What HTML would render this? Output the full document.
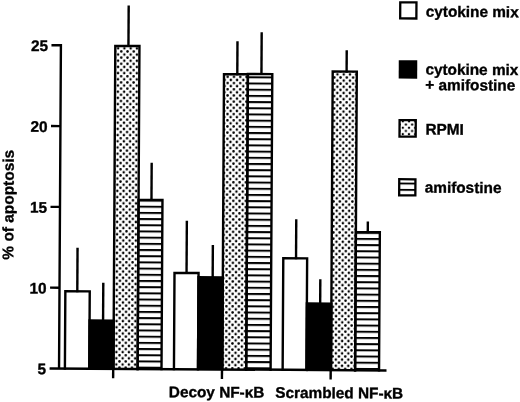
<!DOCTYPE html>
<html><head><meta charset="utf-8"><style>
html,body{margin:0;padding:0;background:#fff;}
body{width:520px;height:402px;overflow:hidden;}
svg{display:block;filter:grayscale(1);}
text{font-family:"Liberation Sans",sans-serif;font-weight:bold;font-size:15.35px;fill:#000;stroke:#000;stroke-width:0.35px;}
</style></head><body>
<svg width="520" height="402" viewBox="0 0 520 402">
<defs><pattern id="dots" patternUnits="userSpaceOnUse" x="116.3" y="103.8" width="6.27" height="6.2"><circle cx="0" cy="0" r="1.25"/><circle cx="6.27" cy="0" r="1.25"/><circle cx="0" cy="6.2" r="1.25"/><circle cx="6.27" cy="6.2" r="1.25"/><circle cx="3.135" cy="3.1" r="1.25"/></pattern><pattern id="stripes" patternUnits="userSpaceOnUse" x="0" y="341.40" width="10" height="6.19"><rect x="0" y="0" width="10" height="2.0"/></pattern><pattern id="dl" patternUnits="userSpaceOnUse" x="401.42" y="125.75" width="6.2" height="6.4"><circle cx="0" cy="0" r="1.15"/><circle cx="6.2" cy="0" r="1.15"/><circle cx="0" cy="6.4" r="1.15"/><circle cx="6.2" cy="6.4" r="1.15"/><circle cx="3.1" cy="3.2" r="1.15"/></pattern><pattern id="sl" patternUnits="userSpaceOnUse" x="0" y="180.60" width="10" height="6.3"><rect x="0" y="0" width="10" height="1.9"/></pattern></defs>
<rect width="520" height="402" fill="#fff"/>
<g transform="rotate(0.33 60 368)">
<path d="M64.90 368.50V291.15H89.30V368.50" fill="none" stroke="#000" stroke-width="2.4" stroke-linejoin="miter" stroke-linecap="square"/>
<rect x="88.10" y="319.10" width="26.55" height="49.40" fill="#000"/>
<rect x="113.45" y="45.60" width="24.15" height="322.90" fill="url(#dots)"/>
<path d="M113.45 368.50V45.60H137.60V368.50" fill="none" stroke="#000" stroke-width="2.4" stroke-linejoin="miter" stroke-linecap="square"/>
<rect x="137.60" y="199.40" width="23.90" height="169.10" fill="url(#stripes)"/>
<path d="M137.60 368.50V199.40H161.50V368.50" fill="none" stroke="#000" stroke-width="2.4" stroke-linejoin="miter" stroke-linecap="square"/>
<path d="M173.95 368.50V272.25H198.00V368.50" fill="none" stroke="#000" stroke-width="2.4" stroke-linejoin="miter" stroke-linecap="square"/>
<rect x="196.80" y="275.20" width="26.70" height="93.30" fill="#000"/>
<rect x="222.30" y="73.15" width="23.90" height="295.35" fill="url(#dots)"/>
<path d="M222.30 368.50V73.15H246.20V368.50" fill="none" stroke="#000" stroke-width="2.4" stroke-linejoin="miter" stroke-linecap="square"/>
<rect x="246.20" y="72.90" width="24.40" height="295.60" fill="url(#stripes)"/>
<path d="M246.20 368.50V72.90H270.60V368.50" fill="none" stroke="#000" stroke-width="2.4" stroke-linejoin="miter" stroke-linecap="square"/>
<path d="M282.65 368.50V257.00H306.50V368.50" fill="none" stroke="#000" stroke-width="2.4" stroke-linejoin="miter" stroke-linecap="square"/>
<rect x="305.30" y="300.90" width="26.90" height="67.60" fill="#000"/>
<rect x="331.00" y="69.90" width="24.10" height="298.60" fill="url(#dots)"/>
<path d="M331.00 368.50V69.90H355.10V368.50" fill="none" stroke="#000" stroke-width="2.4" stroke-linejoin="miter" stroke-linecap="square"/>
<rect x="355.10" y="230.40" width="23.95" height="138.10" fill="url(#stripes)"/>
<path d="M355.10 368.50V230.40H379.05V368.50" fill="none" stroke="#000" stroke-width="2.4" stroke-linejoin="miter" stroke-linecap="square"/>
<line x1="76.85" y1="247.60" x2="76.85" y2="292.15" stroke="#000" stroke-width="2.4"/>
<line x1="102.80" y1="282.55" x2="102.80" y2="320.10" stroke="#000" stroke-width="2.4"/>
<line x1="126.60" y1="5.10" x2="126.60" y2="46.60" stroke="#000" stroke-width="2.4"/>
<line x1="150.50" y1="162.20" x2="150.50" y2="200.40" stroke="#000" stroke-width="2.4"/>
<line x1="186.00" y1="220.00" x2="186.00" y2="273.25" stroke="#000" stroke-width="2.4"/>
<line x1="212.15" y1="244.20" x2="212.15" y2="276.20" stroke="#000" stroke-width="2.4"/>
<line x1="235.60" y1="40.30" x2="235.60" y2="74.15" stroke="#000" stroke-width="2.4"/>
<line x1="259.75" y1="31.05" x2="259.75" y2="73.90" stroke="#000" stroke-width="2.4"/>
<line x1="295.40" y1="218.00" x2="295.40" y2="258.00" stroke="#000" stroke-width="2.4"/>
<line x1="319.80" y1="277.80" x2="319.80" y2="301.90" stroke="#000" stroke-width="2.4"/>
<line x1="344.90" y1="48.50" x2="344.90" y2="70.90" stroke="#000" stroke-width="2.4"/>
<line x1="367.00" y1="219.70" x2="367.00" y2="231.40" stroke="#000" stroke-width="2.4"/>
<path d="M49.6 45.30H59.05V368.5" fill="none" stroke="#000" stroke-width="2.4" stroke-linejoin="miter"/>
<line x1="49.6" y1="368.5" x2="386.5" y2="368.5" stroke="#000" stroke-width="2.5"/>
<line x1="49.6" y1="126.10" x2="59.05" y2="126.10" stroke="#000" stroke-width="2.4"/>
<line x1="49.6" y1="206.90" x2="59.05" y2="206.90" stroke="#000" stroke-width="2.4"/>
<line x1="49.6" y1="287.70" x2="59.05" y2="287.70" stroke="#000" stroke-width="2.4"/>
<line x1="113.2" y1="368.5" x2="113.2" y2="378" stroke="#000" stroke-width="2.4"/>
<line x1="222.0" y1="368.5" x2="222.0" y2="378" stroke="#000" stroke-width="2.4"/>
<line x1="330.7" y1="368.5" x2="330.7" y2="378" stroke="#000" stroke-width="2.4"/>
<rect x="398.15" y="0.35" width="16.20" height="16.10" fill="none" stroke="#000" stroke-width="2.3"/>
<rect x="397" y="58.2" width="18.5" height="18.4" fill="#000"/>
<rect x="398.15" y="118.15" width="16.20" height="16.50" fill="url(#dl)" stroke="#000" stroke-width="2.3"/>
<rect x="398.15" y="177.25" width="16.20" height="16.10" fill="url(#sl)" stroke="#000" stroke-width="2.3"/>
<text x="46.2" y="51.20" text-anchor="end">25</text>
<text x="46.2" y="132.00" text-anchor="end">20</text>
<text x="46.2" y="212.80" text-anchor="end">15</text>
<text x="46.2" y="293.60" text-anchor="end">10</text>
<text x="46.2" y="374.40" text-anchor="end">5</text>
<text x="169.0" y="396.5">Decoy NF-&#954;B</text>
<text x="275.4" y="396.6">Scrambled NF-&#954;B</text>
<text transform="translate(12.6 259.9) rotate(-90)" style="font-size:15.45px">% of apoptosis</text>
<text x="423.7" y="14.6">cytokine mix</text>
<text x="423.7" y="72.5">cytokine mix</text>
<text x="423.7" y="88.0">+ amifostine</text>
<text x="424.09999999999997" y="132.4">RPMI</text>
<text x="423.7" y="190.5">amifostine</text>
</g>
</svg>
</body></html>
